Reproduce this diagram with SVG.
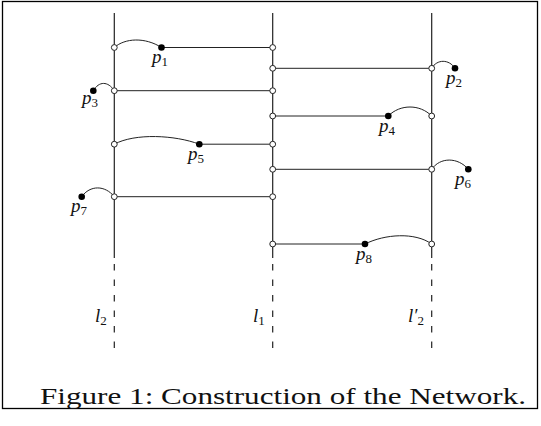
<svg xmlns="http://www.w3.org/2000/svg" width="541" height="426" viewBox="0 0 541 426">
<style>
.frame{fill:none;stroke:#000;stroke-width:1.3}
.vl{stroke:#222;stroke-width:1.2;fill:none}
.dl{stroke:#222;stroke-width:1.2;fill:none;stroke-dasharray:6.5 9}
.hl{stroke:#222;stroke-width:1;fill:none}
.cv{stroke:#222;stroke-width:1;fill:none}
.oc{fill:#fff;stroke:#222;stroke-width:1}
.fc{fill:#000}
.lab{font-family:"Liberation Serif",serif;font-style:italic;font-size:19px;fill:#111}
.sub{font-style:normal;font-size:13px}
.cap{font-family:"Liberation Serif",serif;font-size:23px;fill:#111}
</style>
<rect class="frame" x="2.5" y="1.5" width="535" height="407"/>
<g id="connectors">
<line class="vl" x1="114.3" y1="13" x2="114.3" y2="258"/>
<line class="vl" x1="272.7" y1="13" x2="272.7" y2="258"/>
<line class="vl" x1="431.7" y1="13" x2="431.7" y2="258"/>
<line class="dl" x1="114.3" y1="264" x2="114.3" y2="351"/>
<line class="dl" x1="272.7" y1="264" x2="272.7" y2="351"/>
<line class="dl" x1="431.7" y1="264" x2="431.7" y2="351"/>
<line class="hl" x1="161.5" y1="47.5" x2="272.7" y2="47.5"/>
<line class="hl" x1="272.7" y1="68.3" x2="431.7" y2="68.3"/>
<line class="hl" x1="114.3" y1="90.7" x2="272.7" y2="90.7"/>
<line class="hl" x1="272.7" y1="116" x2="388.3" y2="116"/>
<line class="hl" x1="199.3" y1="144.2" x2="272.7" y2="144.2"/>
<line class="hl" x1="272.7" y1="169.3" x2="431.7" y2="169.3"/>
<line class="hl" x1="114.3" y1="196.7" x2="272.7" y2="196.7"/>
<line class="hl" x1="272.7" y1="244" x2="365" y2="244"/>
<path class="cv" d="M114.3,47.5 C125,38 145,37 161.5,47.5"/>
<path class="cv" d="M431.7,68.3 C437,59 449,59 455,68.3"/>
<path class="cv" d="M93.3,90.7 C99,81 108,81 114.3,90.7"/>
<path class="cv" d="M388.3,116 C400,104 420,104 431.7,116"/>
<path class="cv" d="M114.3,144.2 C135,133 175,135 199.3,144.2"/>
<path class="cv" d="M431.7,169.3 C440,157 458,157 468.3,169.3"/>
<path class="cv" d="M81.7,196.7 C90,185 105,185 114.3,196.7"/>
<path class="cv" d="M365,244 C385,234 415,232 431.7,244"/>
</g>
<g id="junctions">
<circle class="oc" cx="114.3" cy="47.5" r="2.9"/>
<circle class="oc" cx="114.3" cy="90.7" r="2.9"/>
<circle class="oc" cx="114.3" cy="144.2" r="2.9"/>
<circle class="oc" cx="114.3" cy="196.7" r="2.9"/>
<circle class="oc" cx="272.7" cy="47.5" r="2.9"/>
<circle class="oc" cx="272.7" cy="68.3" r="2.9"/>
<circle class="oc" cx="272.7" cy="90.7" r="2.9"/>
<circle class="oc" cx="272.7" cy="116" r="2.9"/>
<circle class="oc" cx="272.7" cy="144.2" r="2.9"/>
<circle class="oc" cx="272.7" cy="169.3" r="2.9"/>
<circle class="oc" cx="272.7" cy="196.7" r="2.9"/>
<circle class="oc" cx="272.7" cy="244" r="2.9"/>
<circle class="oc" cx="431.7" cy="68.3" r="2.9"/>
<circle class="oc" cx="431.7" cy="116" r="2.9"/>
<circle class="oc" cx="431.7" cy="169.3" r="2.9"/>
<circle class="oc" cx="431.7" cy="244" r="2.9"/>
</g>
<g id="p1"><circle class="fc" cx="161.5" cy="47.5" r="3.3"/><text class="lab" x="152" y="63">p<tspan class="sub" dy="3">1</tspan></text></g>
<g id="p2"><circle class="fc" cx="455" cy="68.3" r="3.3"/><text class="lab" x="446" y="84">p<tspan class="sub" dy="3">2</tspan></text></g>
<g id="p3"><circle class="fc" cx="93.3" cy="90.7" r="3.3"/><text class="lab" x="82" y="104">p<tspan class="sub" dy="3">3</tspan></text></g>
<g id="p4"><circle class="fc" cx="388.3" cy="116" r="3.3"/><text class="lab" x="379" y="132">p<tspan class="sub" dy="3">4</tspan></text></g>
<g id="p5"><circle class="fc" cx="199.3" cy="144.2" r="3.3"/><text class="lab" x="188" y="160">p<tspan class="sub" dy="3">5</tspan></text></g>
<g id="p6"><circle class="fc" cx="468.3" cy="169.3" r="3.3"/><text class="lab" x="455" y="185">p<tspan class="sub" dy="3">6</tspan></text></g>
<g id="p7"><circle class="fc" cx="81.7" cy="196.7" r="3.3"/><text class="lab" x="71" y="212">p<tspan class="sub" dy="3">7</tspan></text></g>
<g id="p8"><circle class="fc" cx="365" cy="244" r="3.3"/><text class="lab" x="356" y="260">p<tspan class="sub" dy="3">8</tspan></text></g>
<g id="l2"><text class="lab" x="95" y="322">l<tspan class="sub" dy="3">2</tspan></text></g>
<g id="l1"><text class="lab" x="253" y="322">l<tspan class="sub" dy="3">1</tspan></text></g>
<g id="l2prime"><text class="lab" x="408" y="322">l′<tspan class="sub" dy="3">2</tspan></text></g>
<text class="cap" x="40" y="404" textLength="486" lengthAdjust="spacingAndGlyphs">Figure 1: Construction of the Network.</text>
</svg>
